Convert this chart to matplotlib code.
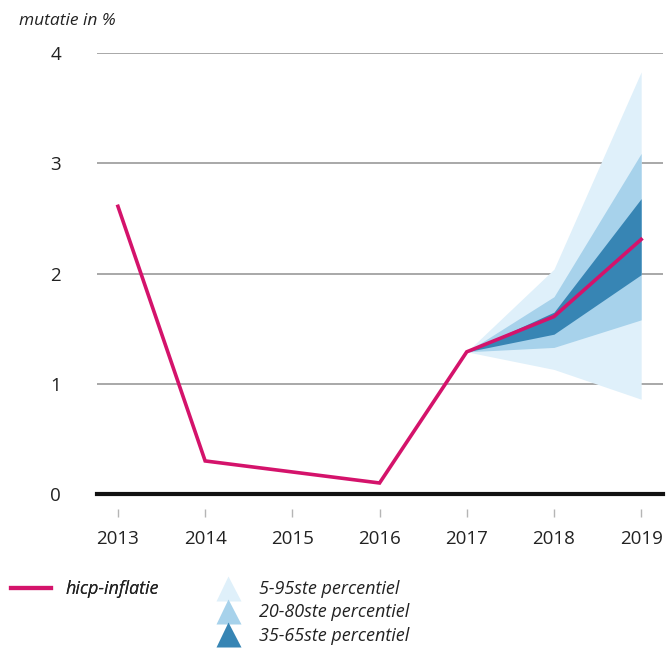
import matplotlib.pyplot as plt
from matplotlib.lines import Line2D

plt.rcParams['font.family'] = ['Open Sans', 'DejaVu Sans']

# hicp-inflatie (realisatie + raming)
years = [2013, 2014, 2016, 2017, 2018, 2019]
hicp = [2.61, 0.30, 0.10, 1.29, 1.61, 2.31]

# onzekerheidsmarges vanaf 2017
fan_years = [2017, 2018, 2019]
p5 = [1.29, 1.13, 0.86]
p95 = [1.29, 2.04, 3.83]
p20 = [1.29, 1.33, 1.58]
p80 = [1.29, 1.79, 3.09]
p35 = [1.29, 1.45, 1.99]
p65 = [1.29, 1.65, 2.68]

xticks = [2013, 2014, 2015, 2016, 2017, 2018, 2019]
yticks = [0, 1, 2, 3, 4]

c_line = '#d4136b'
c_light = '#dff0fa'
c_mid = '#a7d2eb'
c_dark = '#3785b4'

fig = plt.figure(figsize=(6.69, 6.60), dpi=100)
ax = fig.add_axes([0.145, 0.2515, 0.846, 0.668])

ax.fill_between(fan_years, p5, p95, color=c_light, lw=0, zorder=2)
ax.fill_between(fan_years, p20, p80, color=c_mid, lw=0, zorder=3)
ax.fill_between(fan_years, p35, p65, color=c_dark, lw=0, zorder=4)
ax.plot(years, hicp, color=c_line, lw=2.6, zorder=5, solid_joinstyle='miter')

for y in yticks[1:]:
    ax.axhline(y, color='#a8a8a8', lw=1.4, zorder=1)
ax.axhline(0, color='#111111', lw=3, zorder=6, clip_on=False)

ax.set_xlim(2012.76, 2019.25)
ax.set_ylim(0, 4)
ax.set_xticks(xticks)
ax.set_yticks(yticks)
ax.set_yticklabels([str(v) for v in yticks])

for s in ['top', 'right', 'left']:
    ax.spines[s].set_visible(False)
ax.spines['bottom'].set_position(('outward', 11))
ax.spines['bottom'].set_visible(False)

ax.tick_params(axis='x', direction='out', length=6, width=1, color='#b5b5b5',
               labelsize=13.5, pad=9, labelcolor='#222222')
ax.tick_params(axis='y', length=0, pad=26, labelsize=13.5, labelcolor='#222222')
ax.patch.set_alpha(0)

fig.text(0.028, 0.968, 'mutatie in %', fontsize=12.5, style='italic',
         color='#222222', va='center')

# legenda
h_line = [Line2D([], [], color=c_line, lw=3)]
leg1 = fig.legend(h_line, ['hicp-inflatie'], loc='upper left',
                  bbox_to_anchor=(-0.008, 0.146), frameon=False,
                  prop={'style': 'italic', 'size': 13}, handlelength=2.2,
                  handletextpad=0.8, labelcolor='#222222')
h_tri = [Line2D([], [], marker='^', ls='none', ms=18, color=c, mec='none')
         for c in [c_light, c_mid, c_dark]]
fig.legend(h_tri, ['5-95ste percentiel', '20-80ste percentiel', '35-65ste percentiel'],
           loc='upper left', bbox_to_anchor=(0.29, 0.146), frameon=False,
           prop={'style': 'italic', 'size': 13}, labelspacing=0.3,
           handletextpad=0.7, labelcolor='#222222')
fig.add_artist(leg1)

fig.savefig('out.png', dpi=100)
